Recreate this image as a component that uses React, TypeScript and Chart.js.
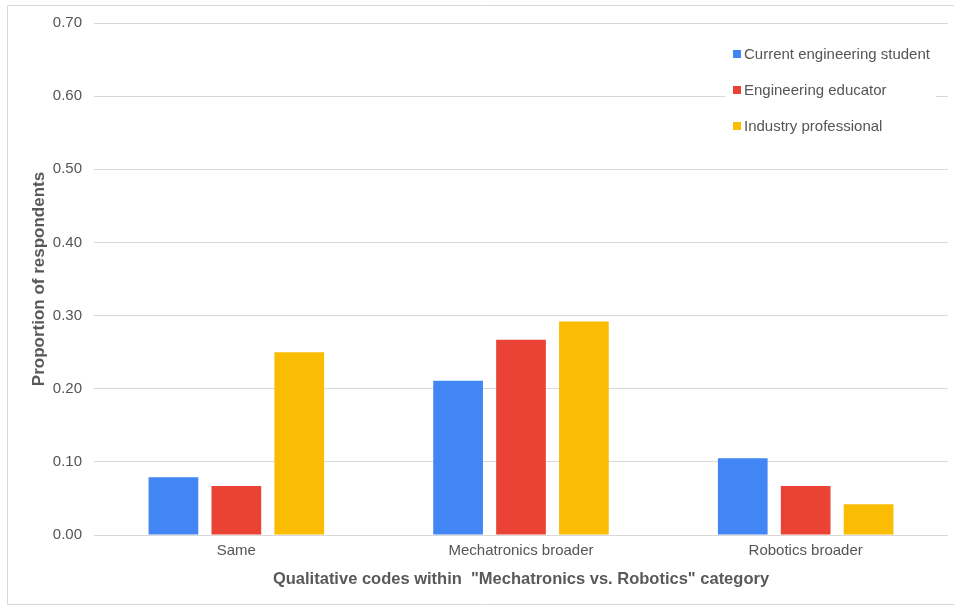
import React, { useEffect, useRef } from "react";
import { Chart, registerables } from "chart.js";

Chart.register(...registerables);

const categories = ["Same", "Mechatronics broader", "Robotics broader"];
const studentValues = [0.079, 0.211, 0.105];
const educatorValues = [0.067, 0.267, 0.067];
const professionalValues = [0.25, 0.292, 0.042];
const seriesLabels = ["Current engineering student", "Engineering educator", "Industry professional"];
const seriesColors = ["#4285F4", "#EA4335", "#FBBC04"];
const yTicks = [0, 0.1, 0.2, 0.3, 0.4, 0.5, 0.6, 0.7];

const FONT = "'Liberation Sans', Arial, sans-serif";

const framePlugin = {
  id: "frame",
  beforeDraw(chart: any) {
    const ctx = chart.ctx;
    ctx.save();
    ctx.fillStyle = "#ffffff";
    ctx.fillRect(0, 0, chart.width, chart.height);
    ctx.strokeStyle = "#d9d9d9";
    ctx.lineWidth = 1;
    ctx.beginPath();
    ctx.moveTo(chart.width + 2, 5.5);
    ctx.lineTo(7.5, 5.5);
    ctx.lineTo(7.5, 604.5);
    ctx.lineTo(chart.width + 2, 604.5);
    ctx.stroke();
    ctx.restore();
  },
};

const legendPlugin = {
  id: "insideLegend",
  afterDraw(chart: any) {
    const ctx = chart.ctx;
    ctx.save();
    const boxLeft = 725;
    const boxRight = 936;
    const firstY = 54;
    const stepY = 36;
    const ds = chart.data.datasets;
    ctx.fillStyle = "#ffffff";
    ctx.fillRect(boxLeft, firstY - 18, boxRight - boxLeft, stepY * (ds.length - 1) + 36);
    ctx.font = "15px " + FONT;
    ctx.textBaseline = "middle";
    ctx.textAlign = "left";
    ds.forEach((d: any, i: number) => {
      const y = firstY + i * stepY;
      ctx.fillStyle = d.backgroundColor;
      ctx.fillRect(733, y - 4, 8, 8);
      ctx.fillStyle = "#555555";
      ctx.fillText(d.label, 744, y + 1);
    });
    ctx.restore();
  },
};

export default function App() {
  const canvasRef = useRef<HTMLCanvasElement | null>(null);

  useEffect(() => {
    document.body.style.margin = "0";
    const canvas = canvasRef.current;
    if (!canvas) return;
    const values = [studentValues, educatorValues, professionalValues];
    const chart = new Chart(canvas, {
      type: "bar",
      data: {
        labels: categories,
        datasets: seriesLabels.map((label, i) => ({
          label,
          data: values[i],
          backgroundColor: seriesColors[i],
          borderWidth: 0,
          categoryPercentage: 0.663,
          barPercentage: 0.79,
        })),
      },
      options: {
        animation: false,
        responsive: false,
        maintainAspectRatio: false,
        devicePixelRatio: 1,
        layout: { padding: { left: 0, right: 6, top: 23, bottom: 0 } },
        plugins: {
          legend: { display: false },
          tooltip: { enabled: false },
        },
        scales: {
          x: {
            grid: { display: false, drawTicks: false },
            border: { display: false },
            ticks: {
              color: "#555555",
              font: { family: FONT, size: 15 },
              padding: 7,
              maxRotation: 0,
            },
            title: {
              display: true,
              text: 'Qualitative codes within  "Mechatronics vs. Robotics" category',
              color: "#595959",
              font: { family: FONT, size: 16.5, weight: "bold" },
              padding: { top: 4, bottom: 16 },
            },
            afterFit(scale: any) {
              scale.height = 70;
            },
          },
          y: {
            min: 0,
            max: 0.7,
            grid: { color: "#d9d9d9", lineWidth: 1, drawTicks: false },
            border: { display: false },
            afterBuildTicks(scale: any) {
              scale.ticks = yTicks.map((v) => ({ value: v }));
            },
            ticks: {
              color: "#555555",
              font: { family: FONT, size: 15 },
              padding: 12,
              callback: (v: any) => Number(v).toFixed(2),
            },
            title: {
              display: true,
              text: "Proportion of respondents",
              color: "#595959",
              font: { family: FONT, size: 17, weight: "bold" },
              padding: { top: 29, bottom: 0 },
            },
            afterFit(scale: any) {
              scale.width = 94;
            },
          },
        },
      },
      plugins: [framePlugin, legendPlugin],
    } as any);
    return () => chart.destroy();
  }, []);

  return (
    <div style={{ width: 954, height: 605, position: "relative" }}>
      <canvas ref={canvasRef} width={954} height={605} style={{ display: "block", width: 954, height: 605 }} />
    </div>
  );
}
